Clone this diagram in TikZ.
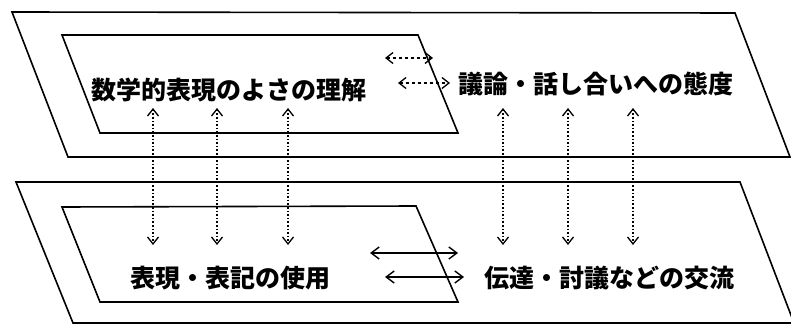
\documentclass[tikz,border=0pt]{standalone}
\usepackage{fontspec}
\newfontfamily\jp{Noto Sans CJK JP}
\usetikzlibrary{arrows.meta}
\begin{document}
\begin{tikzpicture}[x=1pt,y=-1pt,
  frame/.style={draw=black,line width=1.6pt,line join=miter},
  lbl/.style={font=\jp\bfseries\fontsize{25}{25}\selectfont,inner sep=0pt,anchor=center},
  varrow/.style={dotted,line width=1.6pt,{Straight Barb[length=7pt,width=11pt,line width=1.3pt]}-{Straight Barb[length=7pt,width=11pt,line width=1.3pt]}},
  harrowd/.style={dashed,line width=1.3pt,{Straight Barb[length=7pt,width=11pt,line width=1.3pt]}-{Straight Barb[length=7pt,width=11pt,line width=1.3pt]}},
  harrows/.style={line width=1.6pt,{Straight Barb[length=8pt,width=12pt,line width=1.4pt]}-{Straight Barb[length=8pt,width=12pt,line width=1.4pt]}}]
\useasboundingbox (0,0) rectangle (791,326);
\fill[white] (0,0) rectangle (791,326);
% frames
\draw[frame] (12,12) -- (735,13) -- (790,157) -- (68,157) -- cycle;
\draw[frame] (62,35) -- (418,35) -- (458,133) -- (100,133) -- cycle;
\draw[frame] (16,182) -- (740,182) -- (794,323) -- (73,323) -- cycle;
\draw[frame] (62,207) -- (416,206) -- (458,302) -- (100,302) -- cycle;
% labels
\node[lbl] (a) at (229,90) {数学的表現のよさの理解};
\node[lbl] (b) at (596,84) {議論・話し合いへの態度};
\node[lbl] (c) at (230,278) {表現・表記の使用};
\node[lbl] (d) at (609,278) {伝達・討議などの交流};
% vertical arrow endpoints
\foreach \i/\x in {1/153,2/217,3/288,4/503,5/568,6/633}{
  \coordinate (t\i) at (\x,108);
  \coordinate (u\i) at (\x,245);
  \draw[varrow] (t\i) -- (u\i);
}
% horizontal arrows
\coordinate (h1a) at (385,58); \coordinate (h1b) at (433,58);
\coordinate (h2a) at (398,83); \coordinate (h2b) at (450,83);
\draw[harrowd] (h1a) -- (h1b);
\draw[harrowd] (h2a) -- (h2b);
\coordinate (k1a) at (370,253); \coordinate (k1b) at (458,253);
\coordinate (k2a) at (385,277); \coordinate (k2b) at (464,277);
\draw[harrows] (k1a) -- (k1b);
\draw[harrows] (k2a) -- (k2b);
\end{tikzpicture}
\end{document}
